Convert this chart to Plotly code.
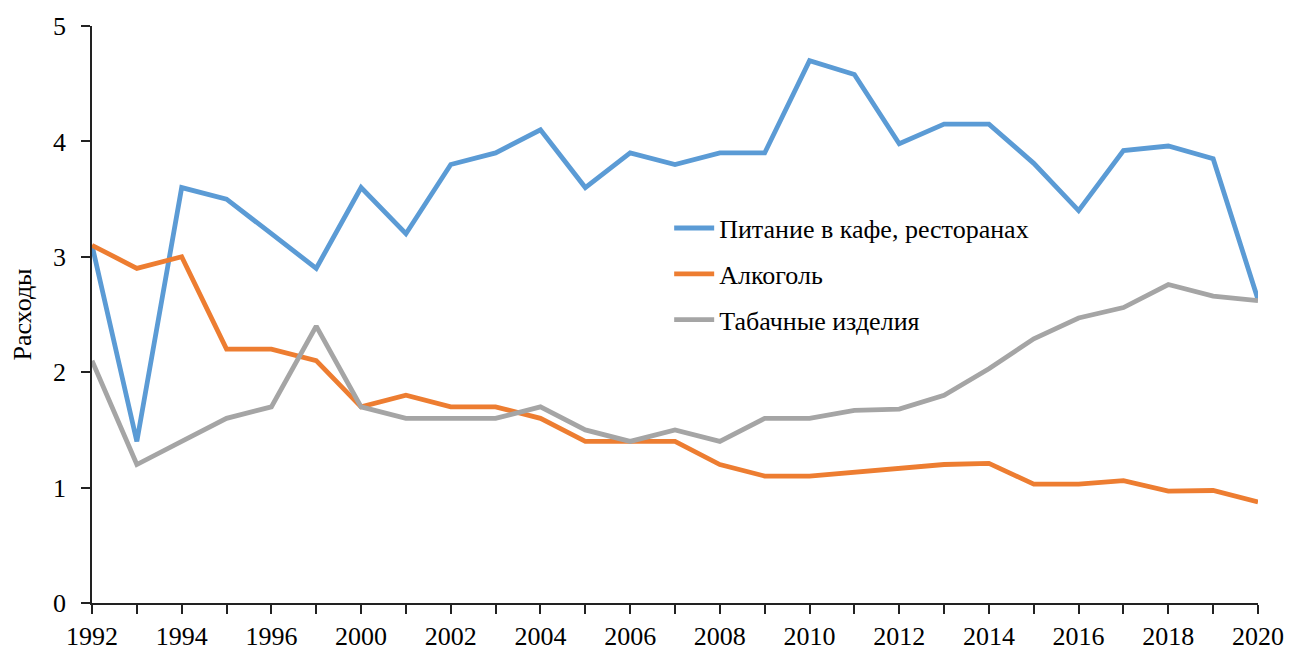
import plotly.graph_objects as go

years = ["1992", "1993", "1994", "1995", "1996", "1997", "2000", "2001", "2002", "2003",
         "2004", "2005", "2006", "2007", "2008", "2009", "2010", "2011", "2012", "2013",
         "2014", "2015", "2016", "2017", "2018", "2019", "2020"]

cafe = [3.1, 1.4, 3.6, 3.5, 3.2, 2.9, 3.6, 3.2, 3.8, 3.9,
        4.1, 3.6, 3.9, 3.8, 3.9, 3.9, 4.7, 4.58, 3.98, 4.15,
        4.15, 3.81, 3.40, 3.92, 3.96, 3.85, 2.63]
alcohol = [3.1, 2.9, 3.0, 2.2, 2.2, 2.1, 1.7, 1.8, 1.7, 1.7,
           1.6, 1.4, 1.4, 1.4, 1.2, 1.1, 1.1, 1.135, 1.17, 1.20,
           1.21, 1.03, 1.03, 1.06, 0.97, 0.975, 0.875]
tobacco = [2.1, 1.2, 1.4, 1.6, 1.7, 2.4, 1.7, 1.6, 1.6, 1.6,
           1.7, 1.5, 1.4, 1.5, 1.4, 1.6, 1.6, 1.67, 1.68, 1.80,
           2.03, 2.29, 2.47, 2.56, 2.76, 2.66, 2.62]

names = ["Питание в кафе, ресторанах", "Алкоголь", "Табачные изделия"]
colors = ["#5B9BD5", "#ED7D31", "#A5A5A5"]

tick_text = [y if i % 2 == 0 else "" for i, y in enumerate(years)]

FONT = "Liberation Serif"
FS = 26

fig = go.Figure()
for i, (name, vals, col) in enumerate(zip(names, [cafe, alcohol, tobacco], colors)):
    fig.add_trace(go.Scatter(x=years, y=vals, mode="lines", name=name,
                             legendgroup=str(i),
                             line=dict(color=col, width=4.8)))

fig.update_layout(
    width=1290, height=642,
    margin=dict(l=84, r=40, t=18, b=47, autoexpand=False),
    plot_bgcolor="white", paper_bgcolor="white",
    font=dict(family=FONT, size=FS, color="black"),
    showlegend=True,
    legend=dict(x=0.495, y=0.57, xanchor="left", yanchor="middle",
                font=dict(family=FONT, size=FS, color="black"),
                bgcolor="rgba(0,0,0,0)", traceorder="grouped",
                tracegroupgap=9, itemwidth=40),
    xaxis=dict(type="category", categoryorder="array", categoryarray=years,
               range=[0, len(years) - 1], automargin=False,
               tickmode="array", tickvals=years, ticktext=tick_text,
               ticks="outside", ticklen=9, tickcolor="#222", tickwidth=1.5,
               showline=True, linecolor="#222", linewidth=1.5,
               showgrid=False, zeroline=False,
               tickfont=dict(family=FONT, size=FS)),
    yaxis=dict(range=[0, 5], dtick=1, tick0=0, automargin=False,
               ticks="outside", ticklen=9, tickcolor="#222", tickwidth=1.5,
               showline=True, linecolor="#222", linewidth=1.5,
               showgrid=False, zeroline=False, ticklabelstandoff=10,
               tickfont=dict(family=FONT, size=FS),
               title=dict(text="Расходы", font=dict(family=FONT, size=FS), standoff=14)),
)

fig.write_html("out.html")
